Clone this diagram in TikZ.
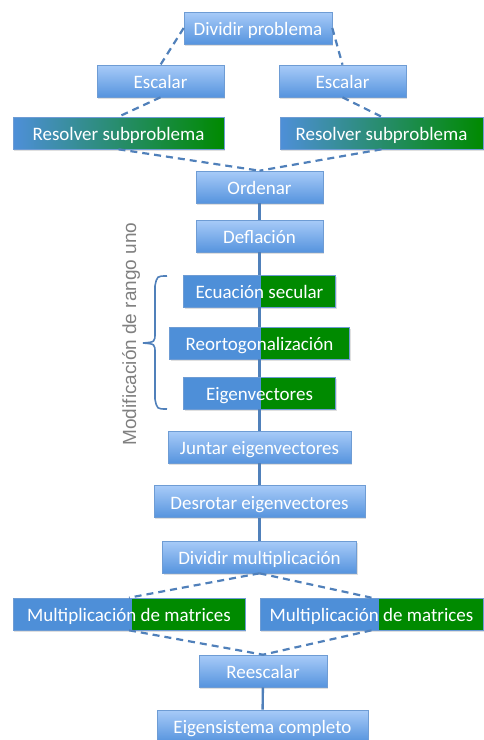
\documentclass[tikz,border=0pt]{standalone}
\usepackage{fontspec}
\setmainfont{Carlito}
\newfontfamily\sidefont{Liberation Sans}
\usetikzlibrary{shadows}

\definecolor{boxtop}{RGB}{168,203,248}
\definecolor{boxbot}{RGB}{86,148,222}
\definecolor{boxline}{RGB}{110,156,212}
\definecolor{solidblue}{RGB}{78,143,216}
\definecolor{solidgreen}{RGB}{0,138,0}
\definecolor{linkblue}{RGB}{80,128,186}

\tikzset{every picture/.style={line width=0.75pt}}
\tikzset{
  stepbox/.style={draw=boxline, line width=0.6pt, top color=boxtop, bottom color=boxbot,
    minimum height=32pt, inner sep=0pt, text=white, font=\fontsize{19}{21}\selectfont,
    text height=15pt, text depth=0pt,
    drop shadow={shadow xshift=1pt, shadow yshift=-1.5pt, opacity=0.25}},
  splitbox/.style={stepbox, top color=solidblue, bottom color=solidblue,
    path picture={\fill[solidgreen] ([xshift=#1]path picture bounding box.north) rectangle (path picture bounding box.south east);}},
  solvebox/.style={stepbox, left color=solidblue, right color=solidgreen},
  dashlink/.style={draw=linkblue, line width=2.2pt, dash pattern=on 7pt off 5pt},
  solidlink/.style={draw=linkblue, line width=2.4pt}
}

\begin{document}
\begin{tikzpicture}[x=1pt,y=1pt,yscale=-1,xscale=1]
	\useasboundingbox (0,0) rectangle (483,740);
	
	% Text Node
	\node[stepbox, minimum width=148pt] (div) at (258,28) {Dividir problema};
	% Text Node
	\node[stepbox, minimum width=127pt] (escL) at (160.5,81) {Escalar};
	% Text Node
	\node[stepbox, minimum width=127pt] (escR) at (342.5,81) {Escalar};
	% Text Node
	\node[solvebox, minimum width=211pt] (resL) at (118.5,133) {Resolver subproblema};
	% Text Node
	\node[solvebox, minimum width=203pt] (resR) at (381.5,133) {Resolver subproblema};
	% Text Node
	\node[stepbox, minimum width=127pt] (ord) at (259.5,187) {Ordenar};
	% Text Node
	\node[stepbox, minimum width=127pt] (defl) at (259.5,236) {Deflación};
	% Text Node
	\node[splitbox=1.5pt, minimum width=152pt] (ecu) at (259.5,291) {Ecuación secular};
	% Text Node
	\node[splitbox=1.5pt, minimum width=180pt] (reo) at (259.5,343) {Reortogonalización};
	% Text Node
	\node[splitbox=1.5pt, minimum width=152pt] (eig) at (259.5,393) {Eigenvectores};
	% Text Node
	\node[stepbox, minimum width=183pt] (jun) at (259.5,447) {Juntar eigenvectores};
	% Text Node
	\node[stepbox, minimum width=211pt] (des) at (259.5,501.5) {Desrotar eigenvectores};
	% Text Node
	\node[stepbox, minimum width=194pt] (divm) at (259.5,557) {Dividir multiplicación};
	% Text Node
	\node[splitbox=3pt, minimum width=232pt] (multL) at (129,614) {Multiplicación de matrices};
	% Text Node
	\node[splitbox=7.5pt, minimum width=223pt] (multR) at (371.5,614) {Multiplicación de matrices};
	% Text Node
	\node[stepbox, minimum width=128pt] (rees) at (263,671) {Reescalar};
	% Text Node
	\node[stepbox, minimum width=211pt] (comp) at (262.5,726) {Eigensistema completo};
	
	%Straight Lines
	\draw[dashlink] (div.west) -- (escL.north);
	\draw[dashlink] (div.east) -- (escR.north);
	\draw[dashlink] (escL.south) -- (resL.north);
	\draw[dashlink] (escR.south) -- (resR.north);
	\draw[dashlink] (resL.south) -- (ord.north);
	\draw[dashlink] (resR.south) -- (ord.north);
	\draw[dashlink] (divm.south) -- (multL.north);
	\draw[dashlink] (divm.south) -- (multR.north);
	\draw[dashlink] (multL.south) -- (rees.north);
	\draw[dashlink] (multR.south) -- (rees.north);
	
	%Straight Lines
	\draw[solidlink] (ord) -- (defl);
	\draw[solidlink] (defl) -- (ecu);
	\draw[solidlink] (ecu) -- (reo);
	\draw[solidlink] (reo) -- (eig);
	\draw[solidlink] (eig) -- (jun);
	\draw[solidlink] (jun) -- (des);
	\draw[solidlink] (des) -- (divm);
	\draw[solidlink] (rees) -- (comp);
	
	%Brace
	\coordinate (bt) at (167,276);
	\coordinate (bm) at (143,343);
	\coordinate (bb) at (167,409);
	\draw[linkblue, line width=1.6pt] (bt) .. controls (157,276) .. (155,286) -- (155,333) .. controls (155,342) .. (bm) .. controls (155,344) .. (155,353) -- (155,399) .. controls (157,409) .. (bb);
	
	% Text Node
	\node[rotate=90, text=gray, font=\sidefont\fontsize{19}{21}\selectfont] (mod) at (131,334) {Modificación de rango uno};
	
\end{tikzpicture}
\end{document}
